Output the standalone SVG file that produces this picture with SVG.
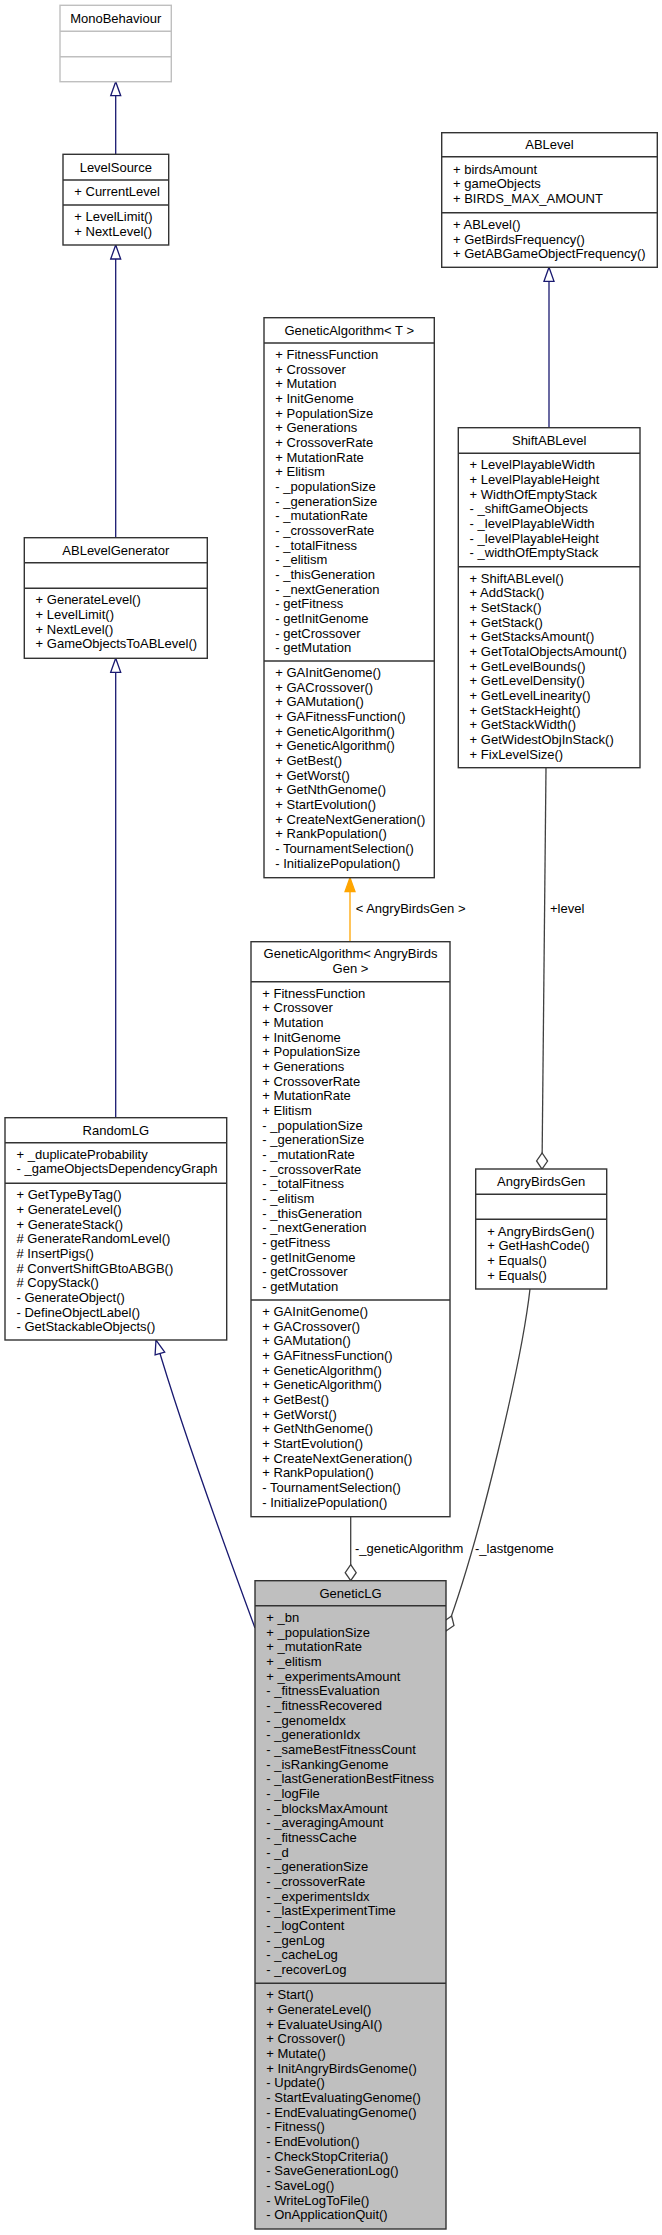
<svg xmlns="http://www.w3.org/2000/svg" width="662" height="2235" viewBox="0 0 662 2235">
<style>
.box{fill:#fff;stroke:#333;stroke-width:1.4}
.ext{fill:#fff;stroke:#bfbfbf;stroke-width:1.4}
.cur{fill:#bfbfbf;stroke:#333;stroke-width:1.4}
.div{stroke:#333;stroke-width:1.4}
.divx{stroke:#bfbfbf;stroke-width:1.4}
.t{font-family:"Liberation Sans",Arial,Helvetica,sans-serif;font-size:13px;fill:#000}
.c{text-anchor:middle}
.inh{fill:none;stroke:#191970;stroke-width:1.3}
.use{fill:none;stroke:#404040;stroke-width:1.3}
.tpl{fill:none;stroke:#ffa500;stroke-width:1.3}
</style>
<defs>
<marker id="mInh" markerUnits="userSpaceOnUse" markerWidth="16" markerHeight="12" refX="14" refY="5" orient="auto" overflow="visible"><path d="M0,0 L14,5 L0,10 z" fill="#fff" stroke="#191970" stroke-width="1.3"/></marker>
<marker id="mTpl" markerUnits="userSpaceOnUse" markerWidth="16" markerHeight="12" refX="14" refY="5" orient="auto" overflow="visible"><path d="M0,0 L14,5 L0,10 z" fill="#ffa500" stroke="#ffa500" stroke-width="1.3"/></marker>
<marker id="mAgg" markerUnits="userSpaceOnUse" markerWidth="18" markerHeight="12" refX="16" refY="5.5" orient="auto" overflow="visible"><path d="M0,5.5 L8,0 L16,5.5 L8,11 z" fill="#fff" stroke="#404040" stroke-width="1.3"/></marker>
</defs>

<g id="connectors">
<path class="inh" d="M115.7,154.3 L115.7,81.7" marker-end="url(#mInh)"/>
<path class="inh" d="M115.7,537.7 L115.7,245" marker-end="url(#mInh)"/>
<path class="inh" d="M115.7,1117.7 L115.7,658.3" marker-end="url(#mInh)"/>
<path class="inh" d="M255,1628 C232,1565 185,1440 156,1340" marker-end="url(#mInh)"/>
<path class="inh" d="M549,427.7 L549,267.3" marker-end="url(#mInh)"/>
<path class="tpl" d="M350,941.7 L350,877.7" marker-end="url(#mTpl)"/>
<text class="t" x="355.7" y="913">&lt; AngryBirdsGen &gt;</text>
<path class="use" d="M546,767.7 L542,1169" marker-end="url(#mAgg)"/>
<text class="t" x="550" y="913">+level</text>
<path class="use" d="M350.7,1516.7 L350.7,1580.7" marker-end="url(#mAgg)"/>
<text class="t" x="355" y="1553">-_geneticAlgorithm</text>
<path class="use" d="M530,1289 C522,1360 480,1540 446,1631" marker-end="url(#mAgg)"/>
<text class="t" x="475" y="1553">-_lastgenome</text>
</g>

<g id="MonoBehaviour">
<rect class="ext" x="60" y="5.3" width="111.3" height="76.4"/>
<line class="divx" x1="60" y1="31.3" x2="171.3" y2="31.3"/>
<line class="divx" x1="60" y1="56.7" x2="171.3" y2="56.7"/>
<text class="t c" x="115.7" y="22.8">MonoBehaviour</text>
</g>

<g id="LevelSource">
<rect class="box" x="63" y="154.3" width="105.7" height="90.7"/>
<line class="div" x1="63" y1="180" x2="168.7" y2="180"/>
<line class="div" x1="63" y1="205" x2="168.7" y2="205"/>
<text class="t c" x="115.8" y="171.7">LevelSource</text>
<text class="t" x="74.3" y="196">+ CurrentLevel</text>
<text class="t" x="74.3" y="221"><tspan x="74.3">+ LevelLimit()</tspan><tspan x="74.3" dy="14.67">+ NextLevel()</tspan></text>
</g>

<g id="ABLevelGenerator">
<rect class="box" x="24.3" y="537.7" width="183" height="120.6"/>
<line class="div" x1="24.3" y1="562.7" x2="207.3" y2="562.7"/>
<line class="div" x1="24.3" y1="588.3" x2="207.3" y2="588.3"/>
<text class="t c" x="115.8" y="554.7">ABLevelGenerator</text>
<text class="t" x="35.6" y="604.3"><tspan x="35.6">+ GenerateLevel()</tspan><tspan x="35.6" dy="14.67">+ LevelLimit()</tspan><tspan x="35.6" dy="14.67">+ NextLevel()</tspan><tspan x="35.6" dy="14.67">+ GameObjectsToABLevel()</tspan></text>
</g>

<g id="RandomLG">
<rect class="box" x="5" y="1117.7" width="221.7" height="222.3"/>
<line class="div" x1="5" y1="1142.7" x2="226.7" y2="1142.7"/>
<line class="div" x1="5" y1="1183.3" x2="226.7" y2="1183.3"/>
<text class="t c" x="115.8" y="1134.7">RandomLG</text>
<text class="t" x="16.5" y="1158.7"><tspan x="16.5">+ _duplicateProbability</tspan><tspan x="16.5" dy="14.67">- _gameObjectsDependencyGraph</tspan></text>
<text class="t" x="16.5" y="1199.3"><tspan x="16.5">+ GetTypeByTag()</tspan><tspan x="16.5" dy="14.67">+ GenerateLevel()</tspan><tspan x="16.5" dy="14.67">+ GenerateStack()</tspan><tspan x="16.5" dy="14.67"># GenerateRandomLevel()</tspan><tspan x="16.5" dy="14.67"># InsertPigs()</tspan><tspan x="16.5" dy="14.67"># ConvertShiftGBtoABGB()</tspan><tspan x="16.5" dy="14.67"># CopyStack()</tspan><tspan x="16.5" dy="14.67">- GenerateObject()</tspan><tspan x="16.5" dy="14.67">- DefineObjectLabel()</tspan><tspan x="16.5" dy="14.67">- GetStackableObjects()</tspan></text>
</g>

<g id="GeneticAlgorithmT">
<rect class="box" x="264" y="317.7" width="170.3" height="560"/>
<line class="div" x1="264" y1="343" x2="434.3" y2="343"/>
<line class="div" x1="264" y1="661" x2="434.3" y2="661"/>
<text class="t c" x="349.2" y="334.9">GeneticAlgorithm&lt; T &gt;</text>
<text class="t" x="275.3" y="359"><tspan x="275.3">+ FitnessFunction</tspan><tspan x="275.3" dy="14.67">+ Crossover</tspan><tspan x="275.3" dy="14.67">+ Mutation</tspan><tspan x="275.3" dy="14.67">+ InitGenome</tspan><tspan x="275.3" dy="14.67">+ PopulationSize</tspan><tspan x="275.3" dy="14.67">+ Generations</tspan><tspan x="275.3" dy="14.67">+ CrossoverRate</tspan><tspan x="275.3" dy="14.67">+ MutationRate</tspan><tspan x="275.3" dy="14.67">+ Elitism</tspan><tspan x="275.3" dy="14.67">- _populationSize</tspan><tspan x="275.3" dy="14.67">- _generationSize</tspan><tspan x="275.3" dy="14.67">- _mutationRate</tspan><tspan x="275.3" dy="14.67">- _crossoverRate</tspan><tspan x="275.3" dy="14.67">- _totalFitness</tspan><tspan x="275.3" dy="14.67">- _elitism</tspan><tspan x="275.3" dy="14.67">- _thisGeneration</tspan><tspan x="275.3" dy="14.67">- _nextGeneration</tspan><tspan x="275.3" dy="14.67">- getFitness</tspan><tspan x="275.3" dy="14.67">- getInitGenome</tspan><tspan x="275.3" dy="14.67">- getCrossover</tspan><tspan x="275.3" dy="14.67">- getMutation</tspan></text>
<text class="t" x="275.3" y="677"><tspan x="275.3">+ GAInitGenome()</tspan><tspan x="275.3" dy="14.67">+ GACrossover()</tspan><tspan x="275.3" dy="14.67">+ GAMutation()</tspan><tspan x="275.3" dy="14.67">+ GAFitnessFunction()</tspan><tspan x="275.3" dy="14.67">+ GeneticAlgorithm()</tspan><tspan x="275.3" dy="14.67">+ GeneticAlgorithm()</tspan><tspan x="275.3" dy="14.67">+ GetBest()</tspan><tspan x="275.3" dy="14.67">+ GetWorst()</tspan><tspan x="275.3" dy="14.67">+ GetNthGenome()</tspan><tspan x="275.3" dy="14.67">+ StartEvolution()</tspan><tspan x="275.3" dy="14.67">+ CreateNextGeneration()</tspan><tspan x="275.3" dy="14.67">+ RankPopulation()</tspan><tspan x="275.3" dy="14.67">- TournamentSelection()</tspan><tspan x="275.3" dy="14.67">- InitializePopulation()</tspan></text>
</g>

<g id="GeneticAlgorithmAngryBirdsGen">
<rect class="box" x="251" y="941.7" width="199" height="575"/>
<line class="div" x1="251" y1="981.7" x2="450" y2="981.7"/>
<line class="div" x1="251" y1="1300" x2="450" y2="1300"/>
<text class="t c" x="350.5" y="958"><tspan x="350.5">GeneticAlgorithm&lt; AngryBirds</tspan><tspan x="350.5" dy="14.67">Gen &gt;</tspan></text>
<text class="t" x="262.3" y="997.7"><tspan x="262.3">+ FitnessFunction</tspan><tspan x="262.3" dy="14.67">+ Crossover</tspan><tspan x="262.3" dy="14.67">+ Mutation</tspan><tspan x="262.3" dy="14.67">+ InitGenome</tspan><tspan x="262.3" dy="14.67">+ PopulationSize</tspan><tspan x="262.3" dy="14.67">+ Generations</tspan><tspan x="262.3" dy="14.67">+ CrossoverRate</tspan><tspan x="262.3" dy="14.67">+ MutationRate</tspan><tspan x="262.3" dy="14.67">+ Elitism</tspan><tspan x="262.3" dy="14.67">- _populationSize</tspan><tspan x="262.3" dy="14.67">- _generationSize</tspan><tspan x="262.3" dy="14.67">- _mutationRate</tspan><tspan x="262.3" dy="14.67">- _crossoverRate</tspan><tspan x="262.3" dy="14.67">- _totalFitness</tspan><tspan x="262.3" dy="14.67">- _elitism</tspan><tspan x="262.3" dy="14.67">- _thisGeneration</tspan><tspan x="262.3" dy="14.67">- _nextGeneration</tspan><tspan x="262.3" dy="14.67">- getFitness</tspan><tspan x="262.3" dy="14.67">- getInitGenome</tspan><tspan x="262.3" dy="14.67">- getCrossover</tspan><tspan x="262.3" dy="14.67">- getMutation</tspan></text>
<text class="t" x="262.3" y="1316"><tspan x="262.3">+ GAInitGenome()</tspan><tspan x="262.3" dy="14.67">+ GACrossover()</tspan><tspan x="262.3" dy="14.67">+ GAMutation()</tspan><tspan x="262.3" dy="14.67">+ GAFitnessFunction()</tspan><tspan x="262.3" dy="14.67">+ GeneticAlgorithm()</tspan><tspan x="262.3" dy="14.67">+ GeneticAlgorithm()</tspan><tspan x="262.3" dy="14.67">+ GetBest()</tspan><tspan x="262.3" dy="14.67">+ GetWorst()</tspan><tspan x="262.3" dy="14.67">+ GetNthGenome()</tspan><tspan x="262.3" dy="14.67">+ StartEvolution()</tspan><tspan x="262.3" dy="14.67">+ CreateNextGeneration()</tspan><tspan x="262.3" dy="14.67">+ RankPopulation()</tspan><tspan x="262.3" dy="14.67">- TournamentSelection()</tspan><tspan x="262.3" dy="14.67">- InitializePopulation()</tspan></text>
</g>

<g id="ABLevel">
<rect class="box" x="441.7" y="132.7" width="215.6" height="134.6"/>
<line class="div" x1="441.7" y1="156.7" x2="657.3" y2="156.7"/>
<line class="div" x1="441.7" y1="212.7" x2="657.3" y2="212.7"/>
<text class="t c" x="549.5" y="149.2">ABLevel</text>
<text class="t" x="453" y="173.8"><tspan x="453">+ birdsAmount</tspan><tspan x="453" dy="14.67">+ gameObjects</tspan><tspan x="453" dy="14.67">+ BIRDS_MAX_AMOUNT</tspan></text>
<text class="t" x="453" y="229"><tspan x="453">+ ABLevel()</tspan><tspan x="453" dy="14.67">+ GetBirdsFrequency()</tspan><tspan x="453" dy="14.67">+ GetABGameObjectFrequency()</tspan></text>
</g>

<g id="ShiftABLevel">
<rect class="box" x="458.3" y="427.7" width="181.7" height="340"/>
<line class="div" x1="458.3" y1="453.3" x2="640" y2="453.3"/>
<line class="div" x1="458.3" y1="566.7" x2="640" y2="566.7"/>
<text class="t c" x="549.2" y="445">ShiftABLevel</text>
<text class="t" x="469.6" y="469.3"><tspan x="469.6">+ LevelPlayableWidth</tspan><tspan x="469.6" dy="14.67">+ LevelPlayableHeight</tspan><tspan x="469.6" dy="14.67">+ WidthOfEmptyStack</tspan><tspan x="469.6" dy="14.67">- _shiftGameObjects</tspan><tspan x="469.6" dy="14.67">- _levelPlayableWidth</tspan><tspan x="469.6" dy="14.67">- _levelPlayableHeight</tspan><tspan x="469.6" dy="14.67">- _widthOfEmptyStack</tspan></text>
<text class="t" x="469.6" y="582.7"><tspan x="469.6">+ ShiftABLevel()</tspan><tspan x="469.6" dy="14.67">+ AddStack()</tspan><tspan x="469.6" dy="14.67">+ SetStack()</tspan><tspan x="469.6" dy="14.67">+ GetStack()</tspan><tspan x="469.6" dy="14.67">+ GetStacksAmount()</tspan><tspan x="469.6" dy="14.67">+ GetTotalObjectsAmount()</tspan><tspan x="469.6" dy="14.67">+ GetLevelBounds()</tspan><tspan x="469.6" dy="14.67">+ GetLevelDensity()</tspan><tspan x="469.6" dy="14.67">+ GetLevelLinearity()</tspan><tspan x="469.6" dy="14.67">+ GetStackHeight()</tspan><tspan x="469.6" dy="14.67">+ GetStackWidth()</tspan><tspan x="469.6" dy="14.67">+ GetWidestObjInStack()</tspan><tspan x="469.6" dy="14.67">+ FixLevelSize()</tspan></text>
</g>

<g id="AngryBirdsGen">
<rect class="box" x="475.7" y="1169" width="131" height="120"/>
<line class="div" x1="475.7" y1="1194.3" x2="606.7" y2="1194.3"/>
<line class="div" x1="475.7" y1="1219.3" x2="606.7" y2="1219.3"/>
<text class="t c" x="541.2" y="1186.2">AngryBirdsGen</text>
<text class="t" x="487.3" y="1235.7"><tspan x="487.3">+ AngryBirdsGen()</tspan><tspan x="487.3" dy="14.67">+ GetHashCode()</tspan><tspan x="487.3" dy="14.67">+ Equals()</tspan><tspan x="487.3" dy="14.67">+ Equals()</tspan></text>
</g>

<g id="GeneticLG">
<rect class="cur" x="255" y="1580.7" width="191" height="648.3"/>
<line class="div" x1="255" y1="1605.7" x2="446" y2="1605.7"/>
<line class="div" x1="255" y1="1983.3" x2="446" y2="1983.3"/>
<text class="t c" x="350.5" y="1597.7">GeneticLG</text>
<text class="t" x="266.3" y="1622"><tspan x="266.3">+ _bn</tspan><tspan x="266.3" dy="14.67">+ _populationSize</tspan><tspan x="266.3" dy="14.67">+ _mutationRate</tspan><tspan x="266.3" dy="14.67">+ _elitism</tspan><tspan x="266.3" dy="14.67">+ _experimentsAmount</tspan><tspan x="266.3" dy="14.67">- _fitnessEvaluation</tspan><tspan x="266.3" dy="14.67">- _fitnessRecovered</tspan><tspan x="266.3" dy="14.67">- _genomeIdx</tspan><tspan x="266.3" dy="14.67">- _generationIdx</tspan><tspan x="266.3" dy="14.67">- _sameBestFitnessCount</tspan><tspan x="266.3" dy="14.67">- _isRankingGenome</tspan><tspan x="266.3" dy="14.67">- _lastGenerationBestFitness</tspan><tspan x="266.3" dy="14.67">- _logFile</tspan><tspan x="266.3" dy="14.67">- _blocksMaxAmount</tspan><tspan x="266.3" dy="14.67">- _averagingAmount</tspan><tspan x="266.3" dy="14.67">- _fitnessCache</tspan><tspan x="266.3" dy="14.67">- _d</tspan><tspan x="266.3" dy="14.67">- _generationSize</tspan><tspan x="266.3" dy="14.67">- _crossoverRate</tspan><tspan x="266.3" dy="14.67">- _experimentsIdx</tspan><tspan x="266.3" dy="14.67">- _lastExperimentTime</tspan><tspan x="266.3" dy="14.67">- _logContent</tspan><tspan x="266.3" dy="14.67">- _genLog</tspan><tspan x="266.3" dy="14.67">- _cacheLog</tspan><tspan x="266.3" dy="14.67">- _recoverLog</tspan></text>
<text class="t" x="266.3" y="1999.2"><tspan x="266.3">+ Start()</tspan><tspan x="266.3" dy="14.67">+ GenerateLevel()</tspan><tspan x="266.3" dy="14.67">+ EvaluateUsingAI()</tspan><tspan x="266.3" dy="14.67">+ Crossover()</tspan><tspan x="266.3" dy="14.67">+ Mutate()</tspan><tspan x="266.3" dy="14.67">+ InitAngryBirdsGenome()</tspan><tspan x="266.3" dy="14.67">- Update()</tspan><tspan x="266.3" dy="14.67">- StartEvaluatingGenome()</tspan><tspan x="266.3" dy="14.67">- EndEvaluatingGenome()</tspan><tspan x="266.3" dy="14.67">- Fitness()</tspan><tspan x="266.3" dy="14.67">- EndEvolution()</tspan><tspan x="266.3" dy="14.67">- CheckStopCriteria()</tspan><tspan x="266.3" dy="14.67">- SaveGenerationLog()</tspan><tspan x="266.3" dy="14.67">- SaveLog()</tspan><tspan x="266.3" dy="14.67">- WriteLogToFile()</tspan><tspan x="266.3" dy="14.67">- OnApplicationQuit()</tspan></text>
</g>
</svg>
